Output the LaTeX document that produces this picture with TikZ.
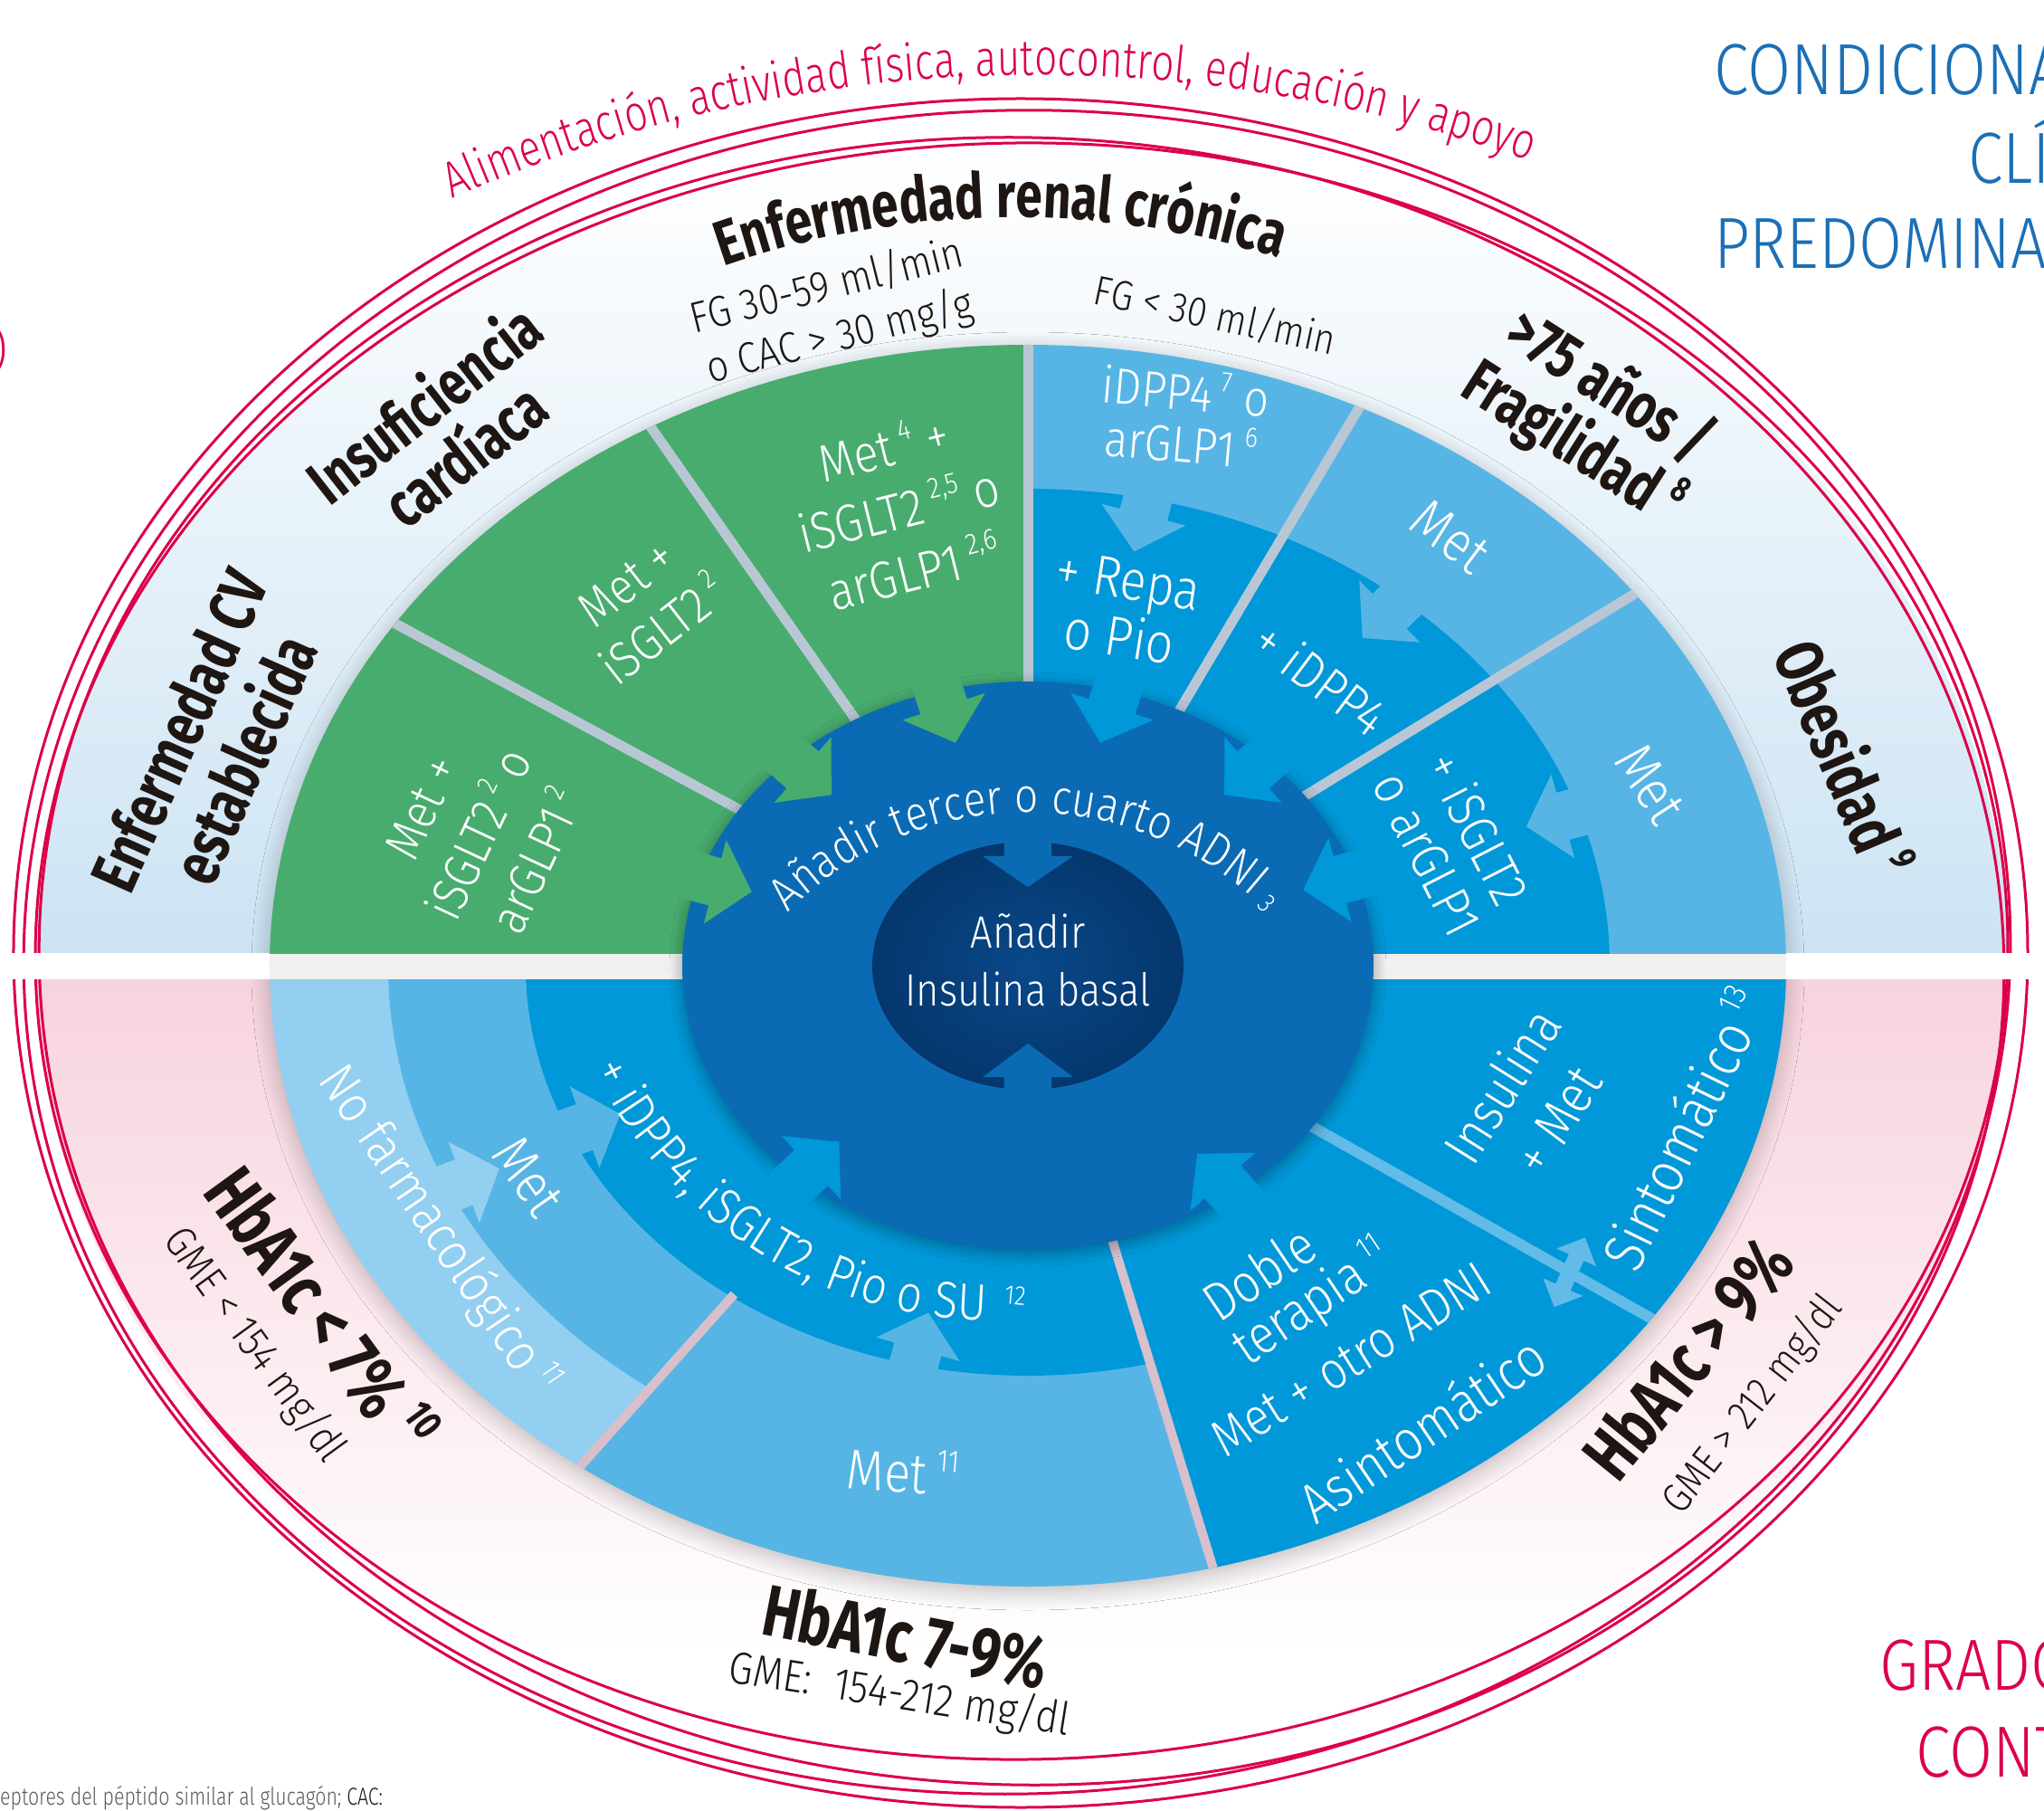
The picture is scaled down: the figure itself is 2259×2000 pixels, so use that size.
\documentclass[tikz,border=0pt]{standalone}
\usepackage{fontspec}
\usepackage{graphicx}
\IfFontExistsTF{Fira Sans Light}{%
  \setmainfont{Fira Sans}[UprightFont={* Light}, BoldFont={* Bold},
    UprightFeatures={FakeStretch=0.87}, BoldFeatures={FakeStretch=0.76}]
  \newfontfamily\narrowlight{Fira Sans}[UprightFont={* Light}, FakeStretch=0.79]}{%
  \setmainfont{Fira Sans}[UprightFeatures={FakeStretch=0.85}, BoldFeatures={FakeStretch=0.76}]
  \newfontfamily\narrowlight{Fira Sans}[FakeStretch=0.77]}
\usetikzlibrary{decorations.text,shadows.blur}

\definecolor{cgreen}{HTML}{48AC6E}
\definecolor{clight}{HTML}{57B5E5}
\definecolor{cpale}{HTML}{93CFF0}
\definecolor{cmid}{HTML}{0098D8}
\definecolor{cring}{HTML}{0A6BB4}
\definecolor{ccore}{HTML}{0A4889}
\definecolor{ccoreedge}{HTML}{04376D}
\definecolor{cdivup}{HTML}{B9C7D5}
\definecolor{cdivlow}{HTML}{D7BFCB}
\definecolor{cdivthree}{HTML}{63BBE8}
\definecolor{bgblue}{HTML}{CCE3F3}
\definecolor{bgpink}{HTML}{F7D3DD}
\definecolor{cred}{HTML}{DC0049}
\definecolor{ctitle}{HTML}{1B6FB6}
\definecolor{ctext}{HTML}{1E1612}
\definecolor{cfoot}{HTML}{5A5A5A}

\makeatletter
\newcommand\sps[1]{\,\raisebox{0.8ex}{\fontsize{\fpeval{0.56*\f@size}}{0}\selectfont#1}}
\makeatother
\newcommand\fsz[2]{\fontsize{#1}{#2}\selectfont}

% block arrow entering an elliptical boundary (a,b) at polar angle, pointing to the centre
\newcommand\inarrow[4]{%
  \edef\rr{\fpeval{#2*#3/sqrt((#3*cosd(#4))^2+(#2*sind(#4))^2)}}%
  \fill[#1, shift={(#4:\rr)}, rotate=#4+180]
    (-60,-27) -- (18,-27) -- (18,-48) -- (60,0) -- (18,48) -- (18,27) -- (-60,27) -- cycle;}

\begin{document}
\begin{tikzpicture}[x=1pt,y=1pt,
  wt/.style={text=white, align=center, inner sep=0pt},
  bk/.style={text=ctext, align=center, inner sep=0pt},
  divup/.style={draw=cdivup, line width=11pt},
  divlow/.style={draw=cdivlow, line width=10pt},
  redring/.style={draw=cred, line width=3pt},
  title/.style={anchor=base west, inner sep=0pt, font=\fsz{80}{80}}]
\useasboundingbox (-1136,-933) rectangle (1123,1067);
\clip (-1136,-933) rectangle (1123,1067);

% soft background of both halves
\begin{scope}
  \clip (-7,5) ellipse (1090 and 906);
  \shade[top color=white, bottom color=bgblue] (-1200,900) rectangle (1200,14);
  \shade[top color=bgpink, bottom color=white] (-1200,-15) rectangle (1200,-760);
\end{scope}

% red outline rings
\draw[redring] (-8,14) ellipse (1113 and 944);
\draw[redring, rotate around={2:(-12,15)}] (-12,15) ellipse (1098 and 930);
\draw[redring, rotate around={-2:(-7,5)}] (-7,5) ellipse (1086 and 910);
\draw[redring, rotate around={1:(-7,16)}] (-7,16) ellipse (1090 and 893);

% shadow of the coloured disc
\path[blur shadow={shadow xshift=0pt, shadow yshift=-6pt, shadow blur radius=20pt,
  shadow blur steps=12, shadow opacity=25}] (0,0) ellipse (838 and 686);

% white band between the halves
\fill[white] (-1200,-15) rectangle (1200,14);
\begin{scope}
  \clip (0,0) ellipse (838 and 686);
  \fill[black!6] (-900,-15) rectangle (900,14);
\end{scope}

% upper half sectors
\begin{scope}
  \clip (-1000,14) rectangle (1000,800);
  \begin{scope}
    \clip (0,0) ellipse (838 and 686);
    \fill[cgreen] (0,0) rectangle (-900,800);
    \fill[clight] (0,0) rectangle (900,800);
  \end{scope}
  \begin{scope}
    \clip (0,0) rectangle (900,800);
    \fill[cmid] (0,0) ellipse (643 and 527);
  \end{scope}
\end{scope}

% lower half sectors
\begin{scope}
  \clip (-1000,-15) rectangle (1000,-800);
  \begin{scope}
    \clip (0,0) ellipse (838 and 686);
    \fill[cpale] (0,0) -- (180:1500) -- (228.2:1500) -- cycle;
    \fill[clight] (0,0) -- (228.2:1500) -- (287.1:1500) -- cycle;
    \fill[cmid] (0,0) -- (287.1:1500) -- (330:1500) -- (360:1500) -- cycle;
  \end{scope}
  \begin{scope}
    \clip (0,0) -- (180:1500) -- (228.2:1500) -- cycle;
    \fill[clight] (0,0) ellipse (707 and 579);
  \end{scope}
  \begin{scope}
    \clip (0,0) -- (180:1500) -- (240:1500) -- (287.1:1500) -- cycle;
    \fill[cmid] (0,0) ellipse (555 and 453);
  \end{scope}
\end{scope}

% sector dividers
\begin{scope}
  \clip (0,0) ellipse (838 and 686);
  \draw[divup] (90:250) -- (90:800);
  \draw[divup] (151.6:250) -- (151.6:900);
  \draw[divup] (125:250) -- (125:900);
  \draw[divup] (59.3:250) -- (59.3:900);
  \draw[divup] (31.5:250) -- (31.5:900);
  \draw[divlow] (228.2:487) -- (228.2:900);
  \draw[divlow] (287.1:250) -- (287.1:900);
  \draw[draw=cdivthree, line width=12pt] (330.5:250) -- (330.5:900);
\end{scope}

% arrows between outer and middle rings
\inarrow{clight}{643}{527}{75.6}
\inarrow{clight}{643}{527}{44.4}
\inarrow{clight}{643}{527}{15.6}
\inarrow{cpale}{707}{579}{201}
\inarrow{clight}{555}{453}{200}
\inarrow{clight}{555}{453}{254}
% two-way arrow across the lower right divider
\fill[cdivthree, shift={(330.5:688)}, rotate=66]
  (-18,-9) -- (18,-9) -- (18,-24) -- (42,0) -- (18,24) -- (18,9) -- (-18,9)
  -- (-18,24) -- (-42,0) -- (-18,-24) -- cycle;

% ring "add third or fourth"
\fill[cring, blur shadow={shadow xshift=0pt, shadow yshift=-4pt, shadow blur radius=14pt,
  shadow blur steps=10, shadow opacity=35}] (0,0) ellipse (382 and 314);

% arrows into the ring
\inarrow{cgreen}{382}{314}{108}
\inarrow{cgreen}{382}{314}{139}
\inarrow{cgreen}{382}{314}{165}
\inarrow{cmid}{382}{314}{72}
\inarrow{cmid}{382}{314}{41}
\inarrow{cmid}{382}{314}{15.4}
\inarrow{cmid}{382}{314}{223}
\inarrow{cmid}{382}{314}{312}

% core "basal insulin"
\shade[inner color=ccore, outer color=ccoreedge] (0,0) ellipse (172 and 137);
\fill[cring] (-26,160) -- (-26,121) -- (-50,121) -- (0,87) -- (50,121) -- (26,121) -- (26,160) -- cycle;
\fill[cring] (-26,-160) -- (-26,-123) -- (-50,-123) -- (0,-86) -- (50,-123) -- (26,-123) -- (26,-160) -- cycle;

% curved texts
\path[decorate, decoration={text along path, text color=cred, text align=center,
  text={|\narrowlight\fsz{56}{56}|Alimentación, actividad física, autocontrol, educación y apoyo}}]
  (-635.6,847.9) arc[start angle=113.8, end angle=70.2, radius=1600];
\path[decorate, decoration={text along path, text color=ctext, text align=center,
  text={|\bfseries\fsz{70}{70}|Enfermedad renal crónica}}]
  (-357.1,765.1) arc[start angle=110.5, end angle=71.3, radius=977];
\path[decorate, decoration={text along path, text color=white, text align=center,
  text={|\fsz{53}{53}|Añadir tercer o cuarto ADNI}}]
  (-274.2,50.0) arc[start angle=137, end angle=47, radius=375];
\node[wt, rotate=-48, font=\fsz{30}{30}] (supadni) at (264,68) {3};
\path[decorate, decoration={text along path, text color=white, text align=center,
  text={|\fsz{57}{57}|+ iDPP4, iSGLT2, Pio o SU}}]
  (-484.1,-105.5) arc[start angle=204.7, end angle=270, radius=492];
\node[wt, rotate=-5, font=\fsz{30}{30}] (supsu) at (-14,-364) {12};

% black labels
\node[bk, rotate=38, font=\bfseries\fsz{70}{72}] (ic) at (-646,594) {Insuficiencia\\cardíaca};
\node[bk, rotate=66, font=\bfseries\fsz{72}{79}] (cv) at (-903,244) {Enfermedad CV\\establecida};
\node[bk, rotate=-32.5, font=\bfseries\fsz{71}{74}] (fr) at (622,607) {>75 años /\\Fragilidad\sps{8}};
\node[bk, rotate=-67, font=\bfseries\fsz{74}{74}] (ob) at (903,230) {Obesidad\sps{9}};
\node[bk, rotate=-54, font=\bfseries\fsz{82}{82}] (hlow) at (-780,-380) {HbA1c < 7\%\sps{10}};
\node[bk, rotate=-54, font=\fsz{48}{48}] (glow) at (-855,-419) {GME < 154 mg/dl};
\node[bk, rotate=-11, font=\bfseries\fsz{80}{80}] (hmid) at (-135,-741) {HbA1c 7-9\%};
\node[bk, rotate=-9, font=\fsz{50}{50}] (gmid) at (-142,-806) {GME:\enspace 154-212 mg/dl};
\node[bk, rotate=51, font=\bfseries\fsz{80}{80}] (hhigh) at (729,-434) {HbA1c > 9\%};
\node[bk, rotate=52, font=\fsz{46}{46}] (ghigh) at (801,-485) {GME > 212 mg/dl};
\node[bk, rotate=14, font=\fsz{48}{57}] (fga) at (-215,722) {FG 30-59 ml/min\\o CAC > 30 mg/g};
\node[bk, rotate=-12, font=\fsz{46}{46}] (fgb) at (207,719) {FG < 30 ml/min};

% white texts in the sectors
\node[wt, rotate=65, font=\fsz{56}{70}] (t1) at (-606,145) {Met +\\iSGLT2\sps{2} o\\arGLP1\sps{2}};
\node[wt, rotate=38, font=\fsz{56}{66}] (t2) at (-423,397) {Met +\\iSGLT2\sps{2}};
\node[wt, rotate=14, font=\fsz{58}{70}] (t3) at (-143,505) {Met\sps{4} +\\iSGLT2\sps{2,5} o\\arGLP1\sps{2,6}};
\node[wt, rotate=-5, font=\fsz{56}{58}] (t4) at (172,607) {iDPP4\sps{7} o\\arGLP1\sps{6}};
\node[wt, rotate=-9, font=\fsz{62}{64}] (t5) at (106,394) {+ Repa\\o Pio};
\node[wt, rotate=-37, font=\fsz{62}{62}] (t6) at (467,474) {Met};
\node[wt, rotate=-37, font=\fsz{58}{58}] (t7) at (324,318) {+ iDPP4};
\node[wt, rotate=-57, font=\fsz{62}{62}] (t8) at (688,201) {Met};
\node[wt, rotate=-63, font=\fsz{58}{62}] (t9) at (470,138) {+ iSGLT2\\o arGLP1};
\node[wt, font=\fsz{50}{64}] (core) at (0,6) {Añadir\\Insulina basal};
\node[wt, rotate=-55, font=\fsz{62}{62}] (t10) at (-552,-233) {Met};
\node[wt, rotate=-56, font=\fsz{58}{58}] (t11) at (-652,-293) {No farmacológico\sps{11}};
\node[wt, rotate=-4, font=\fsz{62}{62}] (t12) at (-138,-558) {Met\sps{11}};
\node[wt, rotate=34, font=\fsz{60}{57}, align=left] (t13) at (300,-351) {Doble\\terapia\sps{11}};
\node[wt, rotate=32, font=\fsz{58}{58}] (t14) at (357,-435) {Met + otro ADNI};
\node[wt, rotate=34, font=\fsz{62}{62}] (t15) at (435,-511) {Asintomático};
\node[wt, rotate=58, font=\fsz{60}{72}] (t16) at (554,-151) {Insulina\\+ Met};
\node[wt, rotate=64, font=\fsz{64}{64}] (t17) at (724,-180) {Sintomático\sps{13}};

% side headings and footnote
\node[title, text=ctitle] (hda) at (758,962) {CONDICIONA};
\node[title, text=ctitle] (hdb) at (1039,864) {CLÍ};
\node[title, text=ctitle] (hdc) at (758,770) {PREDOMINA};
\node[title, text=cred] (hdd) at (941,-800) {GRADO};
\node[title, text=cred] (hde) at (981,-896) {CONT};
\node[anchor=east, inner sep=0pt, text=cred, font=\fsz{56}{56}] (paren) at (-1128,680) {)};
\node[anchor=base west, inner sep=0pt, text=cfoot, font=\narrowlight\fsz{27}{27}] (foot) at (-1136,-927)
  {eptores del péptido similar al glucagón; \textcolor{ctext}{CAC:}};
\end{tikzpicture}
\end{document}
